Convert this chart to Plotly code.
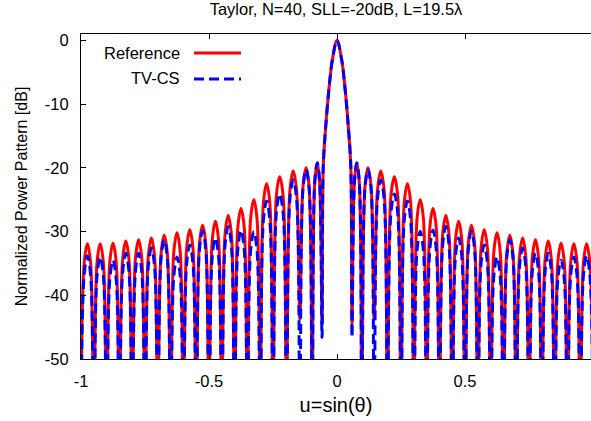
import plotly.graph_objects as go

# ---------------- data ----------------
# null positions (u) and depth (dB); deep nulls fall below the -50 dB floor
null_u = [-1.0, -0.95, -0.9, -0.85, -0.8, -0.75, -0.7, -0.65, -0.6, -0.55,
          -0.5, -0.45, -0.4, -0.35, -0.3, -0.25, -0.197, -0.145, -0.097, -0.0585,
          0.0585, 0.097, 0.145, 0.197, 0.25, 0.3, 0.35, 0.4, 0.45, 0.5,
          0.55, 0.6, 0.65, 0.7, 0.75, 0.8, 0.85, 0.9, 0.95, 1.0]
red_null_db = [-65, -65, -65, -65, -65, -65, -65, -65, -65, -65,
               -65, -65, -65, -65, -65, -65, -65, -43.8, -65, -44.5,
               -44.5, -65, -43.8, -65, -65, -65, -65, -65, -65, -65,
               -65, -65, -65, -65, -65, -65, -65, -65, -65, -65]
blue_null_db = [-65, -65, -65, -65, -65, -65, -65, -65, -65, -65,
                -65, -65, -65, -65, -65, -65, -65, -65, -65, -46.6,
                -46.6, -65, -65, -65, -65, -65, -65, -65, -65, -65,
                -65, -65, -65, -65, -65, -65, -65, -65, -65, -65]

# side-lobe peak positions and levels
lobe_u = [-0.975, -0.925, -0.875, -0.825, -0.775, -0.725, -0.675, -0.625, -0.575, -0.525,
          -0.475, -0.425, -0.375, -0.325, -0.275, -0.224, -0.171, -0.121, -0.077,
          0.077, 0.121, 0.171, 0.224, 0.275, 0.325, 0.375, 0.425, 0.475, 0.525,
          0.575, 0.625, 0.675, 0.725, 0.775, 0.825, 0.875, 0.925, 0.975]
red_lobe_db = [-31.9, -31.9, -31.8, -31.5, -31.3, -31.0, -30.6, -30.2, -29.7, -29.0,
               -28.4, -27.5, -26.4, -25.0, -22.5, -21.4, -20.5, -20.0, -19.3,
               -19.3, -20.0, -20.5, -21.4, -22.5, -25.0, -26.4, -27.5, -28.4, -29.0,
               -29.7, -30.2, -30.6, -31.0, -31.3, -31.5, -31.8, -31.9, -31.9]
blue_lobe_db = [-33.8, -34.0, -34.5, -33.4, -33.4, -32.6, -31.3, -34.0, -32.1, -29.9,
                -31.0, -29.2, -29.8, -30.0, -25.2, -24.1, -21.9, -20.3, -19.2,
                -19.2, -20.3, -21.9, -24.1, -25.2, -30.0, -29.8, -29.2, -31.0, -29.9,
                -32.1, -34.0, -31.3, -32.6, -33.4, -33.4, -34.5, -34.0, -33.8]

# side-lobe flanks (half-way between null and peak)
shoulder_u = [-0.9875, -0.9625, -0.9375, -0.9125, -0.8875, -0.8625, -0.8375, -0.8125,
              -0.7875, -0.7625, -0.7375, -0.7125, -0.6875, -0.6625, -0.6375, -0.6125,
              -0.5875, -0.5625, -0.5375, -0.5125, -0.4875, -0.4625, -0.4375, -0.4125,
              -0.3875, -0.3625, -0.3375, -0.3125, -0.2875, -0.2625, -0.237, -0.2105,
              -0.184, -0.158, -0.133, -0.109, -0.087, -0.068,
              0.068, 0.087, 0.109, 0.133, 0.158, 0.184, 0.2105, 0.237,
              0.2625, 0.2875, 0.3125, 0.3375, 0.3625, 0.3875, 0.4125, 0.4375,
              0.4625, 0.4875, 0.5125, 0.5375, 0.5625, 0.5875, 0.6125, 0.6375,
              0.6625, 0.6875, 0.7125, 0.7375, 0.7625, 0.7875, 0.8125, 0.8375,
              0.8625, 0.8875, 0.9125, 0.9375, 0.9625, 0.9875]
red_shoulder_db = [-34.9, -34.9, -34.9, -34.9, -34.8, -34.8, -34.5, -34.5,
                   -34.3, -34.3, -34.0, -34.0, -33.6, -33.6, -33.2, -33.2,
                   -32.7, -32.7, -32.0, -32.0, -31.4, -31.4, -30.5, -30.5,
                   -29.4, -29.4, -28.0, -28.0, -25.5, -25.5, -24.4, -24.4,
                   -23.5, -23.5, -23.0, -23.0, -22.3, -22.3,
                   -22.3, -22.3, -23.0, -23.0, -23.5, -23.5, -24.4, -24.4,
                   -25.5, -25.5, -28.0, -28.0, -29.4, -29.4, -30.5, -30.5,
                   -31.4, -31.4, -32.0, -32.0, -32.7, -32.7, -33.2, -33.2,
                   -33.6, -33.6, -34.0, -34.0, -34.3, -34.3, -34.5, -34.5,
                   -34.8, -34.8, -34.9, -34.9, -34.9, -34.9]
blue_shoulder_db = [-36.8, -36.8, -37.0, -37.0, -37.5, -37.5, -36.4, -36.4,
                    -36.4, -36.4, -35.6, -35.6, -34.3, -34.3, -37.0, -37.0,
                    -35.1, -35.1, -32.9, -32.9, -34.0, -34.0, -32.2, -32.2,
                    -32.8, -32.8, -33.0, -33.0, -28.2, -28.2, -27.1, -27.1,
                    -24.9, -24.9, -23.3, -23.3, -22.2, -22.2,
                    -22.2, -22.2, -23.3, -23.3, -24.9, -24.9, -27.1, -27.1,
                    -28.2, -28.2, -33.0, -33.0, -32.8, -32.8, -32.2, -32.2,
                    -34.0, -34.0, -32.9, -32.9, -35.1, -35.1, -37.0, -37.0,
                    -34.3, -34.3, -35.6, -35.6, -36.4, -36.4, -36.4, -36.4,
                    -37.5, -37.5, -37.0, -37.0, -36.8, -36.8]

# main beam (same for both series)
main_u = [-0.054, -0.045, -0.03, -0.018, 0.0, 0.018, 0.03, 0.045, 0.054]
main_db = [-20.0, -14.0, -7.0, -3.0, 0.0, -3.0, -7.0, -14.0, -20.0]

x_tickvals = [-1, -0.5, 0, 0.5]
x_ticktext = ["-1", "-0.5", "0", "0.5"]
y_tickvals = [0, -10, -20, -30, -40, -50]
y_ticktext = ["0", "-10", "-20", "-30", "-40", "-50"]


def assemble(*pairs):
    pts = []
    for us, ds in pairs:
        pts.extend(zip(us, ds))
    pts.sort(key=lambda p: p[0])
    return [p[0] for p in pts], [p[1] for p in pts]


red_u, red_db = assemble((null_u, red_null_db), (lobe_u, red_lobe_db),
                         (shoulder_u, red_shoulder_db), (main_u, main_db))
blue_u, blue_db = assemble((null_u, blue_null_db), (lobe_u, blue_lobe_db),
                           (shoulder_u, blue_shoulder_db), (main_u, main_db))

FONT = "Liberation Sans, Arial, Helvetica, sans-serif"
FS = 16.5

fig = go.Figure()
fig.add_trace(go.Scatter(x=red_u, y=red_db, mode="lines", name="Reference",
                         line=dict(color="#ff0000", width=3, shape="spline", smoothing=1),
                         showlegend=False))
fig.add_trace(go.Scatter(x=blue_u, y=blue_db, mode="lines", name="TV-CS",
                         line=dict(color="#0000ff", width=3, dash="10px,5px",
                                   shape="spline", smoothing=1),
                         showlegend=False))

# gnuplot-style key: text right-aligned, sample line on the right
fig.add_annotation(text="Reference", xref="paper", yref="paper", x=0.1975, y=0.9406,
                   xanchor="right", yanchor="middle", showarrow=False,
                   font=dict(family=FONT, size=FS, color="black"))
fig.add_annotation(text="TV-CS", xref="paper", yref="paper", x=0.1975, y=0.8637,
                   xanchor="right", yanchor="middle", showarrow=False,
                   font=dict(family=FONT, size=FS, color="black"))
fig.add_shape(type="line", xref="paper", yref="paper", x0=0.2216, x1=0.3137,
              y0=0.9415, y1=0.9415, line=dict(color="#ff0000", width=3))
fig.add_shape(type="line", xref="paper", yref="paper", x0=0.2216, x1=0.3137,
              y0=0.8615, y1=0.8615, line=dict(color="#0000ff", width=3, dash="10px,5px"))

fig.update_layout(
    width=591, height=421,
    margin=dict(l=81, r=0, t=34, b=62),
    paper_bgcolor="white", plot_bgcolor="white",
    font=dict(family=FONT, size=FS, color="black"),
    title=dict(text="Taylor, N=40, SLL=-20dB, L=19.5λ", x=0.5, xref="paper",
               xanchor="center", y=1 - 9.5 / 421, yref="container", yanchor="middle",
               font=dict(family=FONT, size=FS, color="black")),
    xaxis=dict(range=[-1, 0.992], tickvals=x_tickvals, ticktext=x_ticktext,
               ticks="inside", ticklen=5, tickwidth=1, tickcolor="black",
               showline=True, linecolor="black", linewidth=1, mirror="ticks",
               showgrid=False, zeroline=False, ticklabelstandoff=7,
               title=dict(text="u=sin(θ)", standoff=9)),
    yaxis=dict(range=[-50, 1], tickvals=y_tickvals, ticktext=y_ticktext,
               ticks="inside", ticklen=5, tickwidth=1, tickcolor="black",
               showline=True, linecolor="black", linewidth=1, mirror=False,
               showgrid=False, zeroline=False, ticklabelstandoff=8,
               title=dict(text="Normalized Power Pattern [dB]", standoff=13,
                          font=dict(family=FONT, size=16, color="black"))),
    yaxis2=dict(range=[-50, 1], tickvals=y_tickvals, overlaying="y", side="right",
                anchor="x", ticks="inside", ticklen=5, tickwidth=1, tickcolor="black",
                showline=False, showticklabels=False, showgrid=False, zeroline=False),
)

fig.write_html("out.html")
